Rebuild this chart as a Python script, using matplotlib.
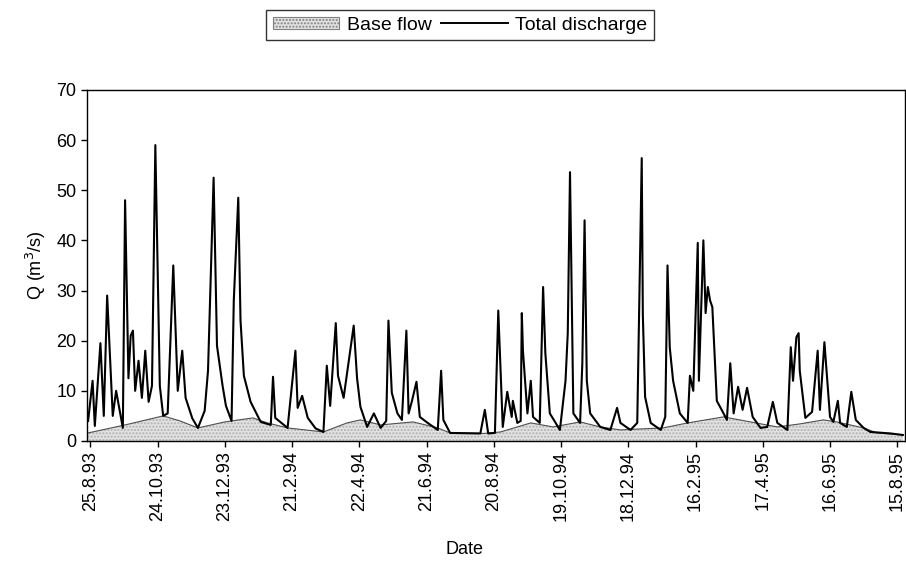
import matplotlib
matplotlib.use("Agg")
import matplotlib.pyplot as plt
from matplotlib.patches import Patch
from matplotlib.lines import Line2D

plt.rcParams['font.family'] = ['Liberation Sans', 'DejaVu Sans']

# days after 25.8.93 and discharge (m3/s)
total_days = [-2, 2, 4, 9, 12, 15, 20, 23, 29, 31, 34, 36, 38, 40, 43, 46, 49, 52, 55, 58,
              62, 65, 69, 74, 78, 82, 85, 91, 96, 102, 105, 110, 113, 118, 121, 126, 128, 132,
              134, 137, 143, 152, 161, 163, 165, 176, 183, 185, 189, 194, 201, 208, 211, 214,
              219, 221, 226, 230, 235, 238, 241, 247, 253, 259, 264, 266, 269, 274, 278, 282,
              284, 287, 291, 294, 301, 310, 313, 315, 321, 348, 352, 355, 361, 364, 368, 372,
              376, 377, 381, 384, 385, 386, 390, 393, 395, 401, 404, 406, 410, 419, 424, 426,
              428, 431, 437, 439, 441, 443, 446, 455, 464, 470, 473, 482, 488, 492, 493, 495,
              500, 509, 513, 515, 517, 520, 526, 533, 535, 538, 542, 543, 547, 549, 551, 553,
              555, 559, 565, 568, 571, 574, 578, 582, 586, 591, 598, 604, 609, 613, 622, 625,
              627, 630, 632, 633, 638, 644, 649, 651, 655, 658, 660, 663, 667, 669, 675, 679,
              683, 690, 696, 714, 725]
total_q = [4, 12, 3, 19.5, 5, 29, 5, 10, 2.6, 48, 12.5, 21, 22, 10, 16, 8.6, 18, 7.8, 11, 59,
           11, 5, 5.5, 35, 10, 18, 8.6, 4.5, 2.6, 6, 14, 52.5, 19, 11, 7, 4, 28, 48.5,
           24, 13, 7.8, 3.8, 3.2, 12.8, 4.6, 2.6, 18, 6.6, 9, 4.6, 2.5, 1.8, 15, 7,
           23.5, 13, 8.6, 15, 23, 12.5, 6.8, 2.8, 5.5, 2.6, 4, 24, 9.6, 5.5, 4.2, 22,
           5.5, 8, 11.8, 4.8, 3.6, 2.2, 14, 4.2, 1.6, 1.5, 6.2, 1.5, 1.6, 26, 2.8, 9.8,
           4.8, 8, 3.6, 4, 25.5, 18, 5.5, 12, 4.8, 3.6, 30.7, 17.5, 5.5, 2.2, 12, 21.5,
           53.6, 5.5, 3.6, 15.5, 44, 12, 5.5, 2.8, 2.2, 6.6, 3.6, 2.2, 3.6, 56.4, 25, 8.8,
           3.6, 2.2, 4.8, 35, 18.7, 12, 5.5, 3.6, 13, 10, 39.5, 12, 40, 25.5, 30.7, 28,
           26.7, 8, 5.5, 4.2, 15.5, 5.5, 10.8, 6.2, 10.6, 4.8, 2.6, 2.8, 7.8, 3.6, 2.2, 18.7,
           12, 20.7, 21.5, 14, 4.6, 5.8, 18, 6.2, 19.7, 10.8, 4.8, 3.8, 8, 3.6, 2.8, 9.8,
           4.2, 2.6, 1.8, 1.5, 1.2]

base_days = [-2, 31, 65, 80, 96, 120, 145, 158, 176, 208, 229, 241, 259, 288, 310, 321, 351,
             366, 393, 413, 437, 455, 473, 491, 511, 533, 565, 589, 613, 633, 654, 666, 690,
             702, 725]
base_q = [1.6, 3.2, 5.0, 4.0, 2.6, 3.8, 4.6, 3.6, 2.6, 1.8, 3.6, 4.2, 3.2, 3.8, 2.6, 1.6, 1.5,
          1.8, 3.6, 2.8, 3.8, 2.8, 2.2, 2.4, 2.6, 3.6, 4.8, 3.8, 2.8, 3.4, 4.2, 3.8, 2.6,
          1.6, 1.2]

tick_days = [0, 60, 120, 180, 240, 300, 360, 420, 480, 540, 600, 660, 720]
tick_labels = ['25.8.93', '24.10.93', '23.12.93', '21.2.94', '22.4.94', '21.6.94', '20.8.94',
               '19.10.94', '18.12.94', '16.2.95', '17.4.95', '16.6.95', '15.8.95']

fig = plt.figure(figsize=(9.06, 5.69), dpi=100)
ax = fig.add_axes([0.096, 0.225, 0.903, 0.617])

ax.fill_between(base_days, 0, base_q, facecolor='#e2e2e2', edgecolor='#b0b0b0',
                hatch='.....', linewidth=0)
ax.plot(base_days, base_q, color='#505050', linewidth=0.8)
ax.plot(total_days, total_q, color='black', linewidth=1.5)

ax.set_xlim(-3, 727)
ax.set_ylim(0, 70)
ax.set_yticks(range(0, 71, 10))
ax.set_xticks(tick_days)
ax.set_xticklabels(tick_labels, rotation=90, va='top', ha='center')
ax.tick_params(axis='both', labelsize=13, length=4, width=1, direction='out')
ax.tick_params(axis='x', pad=3)
for s in ax.spines.values():
    s.set_linewidth(1)

ax.set_ylabel('Q (m$^3$/s)', fontsize=13, labelpad=6)
fig.text(0.513, 0.035, 'Date', fontsize=13, ha='center', va='center')

handles = [Patch(facecolor='#e2e2e2', edgecolor='#808080', hatch='.....', linewidth=0.8),
           Line2D([0], [0], color='black', linewidth=1.4)]
leg = fig.legend(handles, ['Base flow', 'Total discharge'], loc='center',
                 bbox_to_anchor=(0.508, 0.956), ncol=2, fontsize=14, frameon=True,
                 fancybox=False, edgecolor='black', handlelength=3.4, handleheight=0.6,
                 columnspacing=0.5, handletextpad=0.4, borderpad=0.35)
leg.get_frame().set_linewidth(1)

fig.savefig('out.png', dpi=100)
